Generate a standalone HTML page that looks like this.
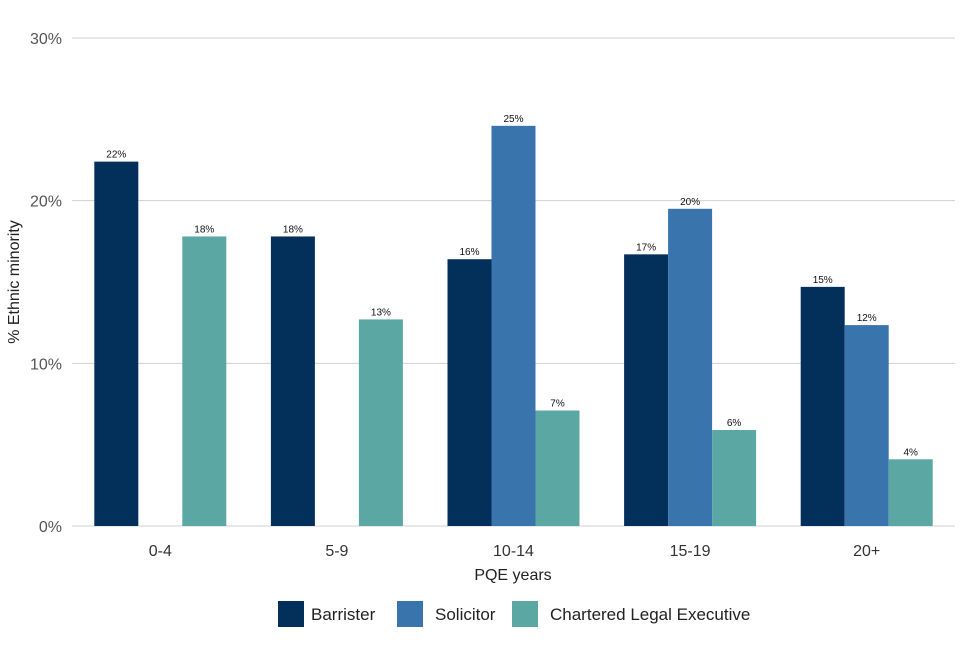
<!DOCTYPE html>
<html><head><meta charset="utf-8"><style>
html,body{margin:0;padding:0;background:#fff;}
svg text{font-family:"Liberation Sans",sans-serif;}
</style></head><body>
<svg id="chart" width="960" height="640" xmlns="http://www.w3.org/2000/svg">
<g id="grid"></g><g id="bars"></g><g id="labels"></g>
<text x="513" y="580" font-size="16" fill="#222" text-anchor="middle">PQE years</text>
<text transform="translate(19,282) rotate(-90)" font-size="16" fill="#222" text-anchor="middle">% Ethnic minority</text>
<g id="legend"></g>
</svg>
<script>
const categories = ["0-4","5-9","10-14","15-19","20+"];
const seriesNames = ["Barrister","Solicitor","Chartered Legal Executive"];
const barrister = [22.4, 17.8, 16.4, 16.7, 14.7];
const solicitor = [null, null, 24.6, 19.5, 12.35];
const cle = [17.8, 12.7, 7.1, 5.9, 4.1];
const yTicks = [0, 10, 20, 30];
const colors = ["#02305a","#3a74ad","#5ba7a3"];
const series = [barrister, solicitor, cle];
const NS = "http://www.w3.org/2000/svg";
const left = 72, right = 955, y0 = 526, y30 = 38;
const band = (right-left)/categories.length, bw = 44;
const y = v => y0 - (y0-y30)*v/30;
const xc = i => left + band*(i+0.5);
function mk(tag, attrs, parent, text){const e=document.createElementNS(NS,tag);for(const k in attrs)e.setAttribute(k,attrs[k]);if(text!==undefined)e.textContent=text;document.getElementById(parent)?.appendChild(e);return e;}
yTicks.forEach(t=>{
  const l=mk("line",{x1:left,x2:right,y1:y(t),y2:y(t),stroke:"#d0d0d0","stroke-width":1},"grid");
  
  
  const tx=mk("text",{x:62,y:y(t)+6,"font-size":16,fill:"#555","text-anchor":"end"},"grid",t+"%");
  
  
});
categories.forEach((c,i)=>{
  const tx=mk("text",{x:xc(i),y:556,"font-size":16,fill:"#333","text-anchor":"middle"},"grid",c);
  
  
  series.forEach((s,j)=>{
    const v=s[i]; if(v==null) return;
    const x=xc(i)+(j-1.5)*bw;
    const r=mk("rect",{x:x,y:y(v),width:bw,height:y0-y(v),fill:colors[j]},"bars");
    
    
    const lb=mk("text",{x:x+bw/2,y:y(v)-4,"font-size":10,fill:"#111","text-anchor":"middle"},"labels",Math.round(v)+"%");
    
    
  });
});
const legX=[278,397,512];
const legTX=[311,435,550];
seriesNames.forEach((n,j)=>{
  const r=mk("rect",{x:legX[j],y:601,width:26,height:26,fill:colors[j]},"legend");
  
  
  const t=mk("text",{x:legTX[j],y:620,"font-size":17,fill:"#222"},"legend",n);
  
  
});
</script>
</body></html>
